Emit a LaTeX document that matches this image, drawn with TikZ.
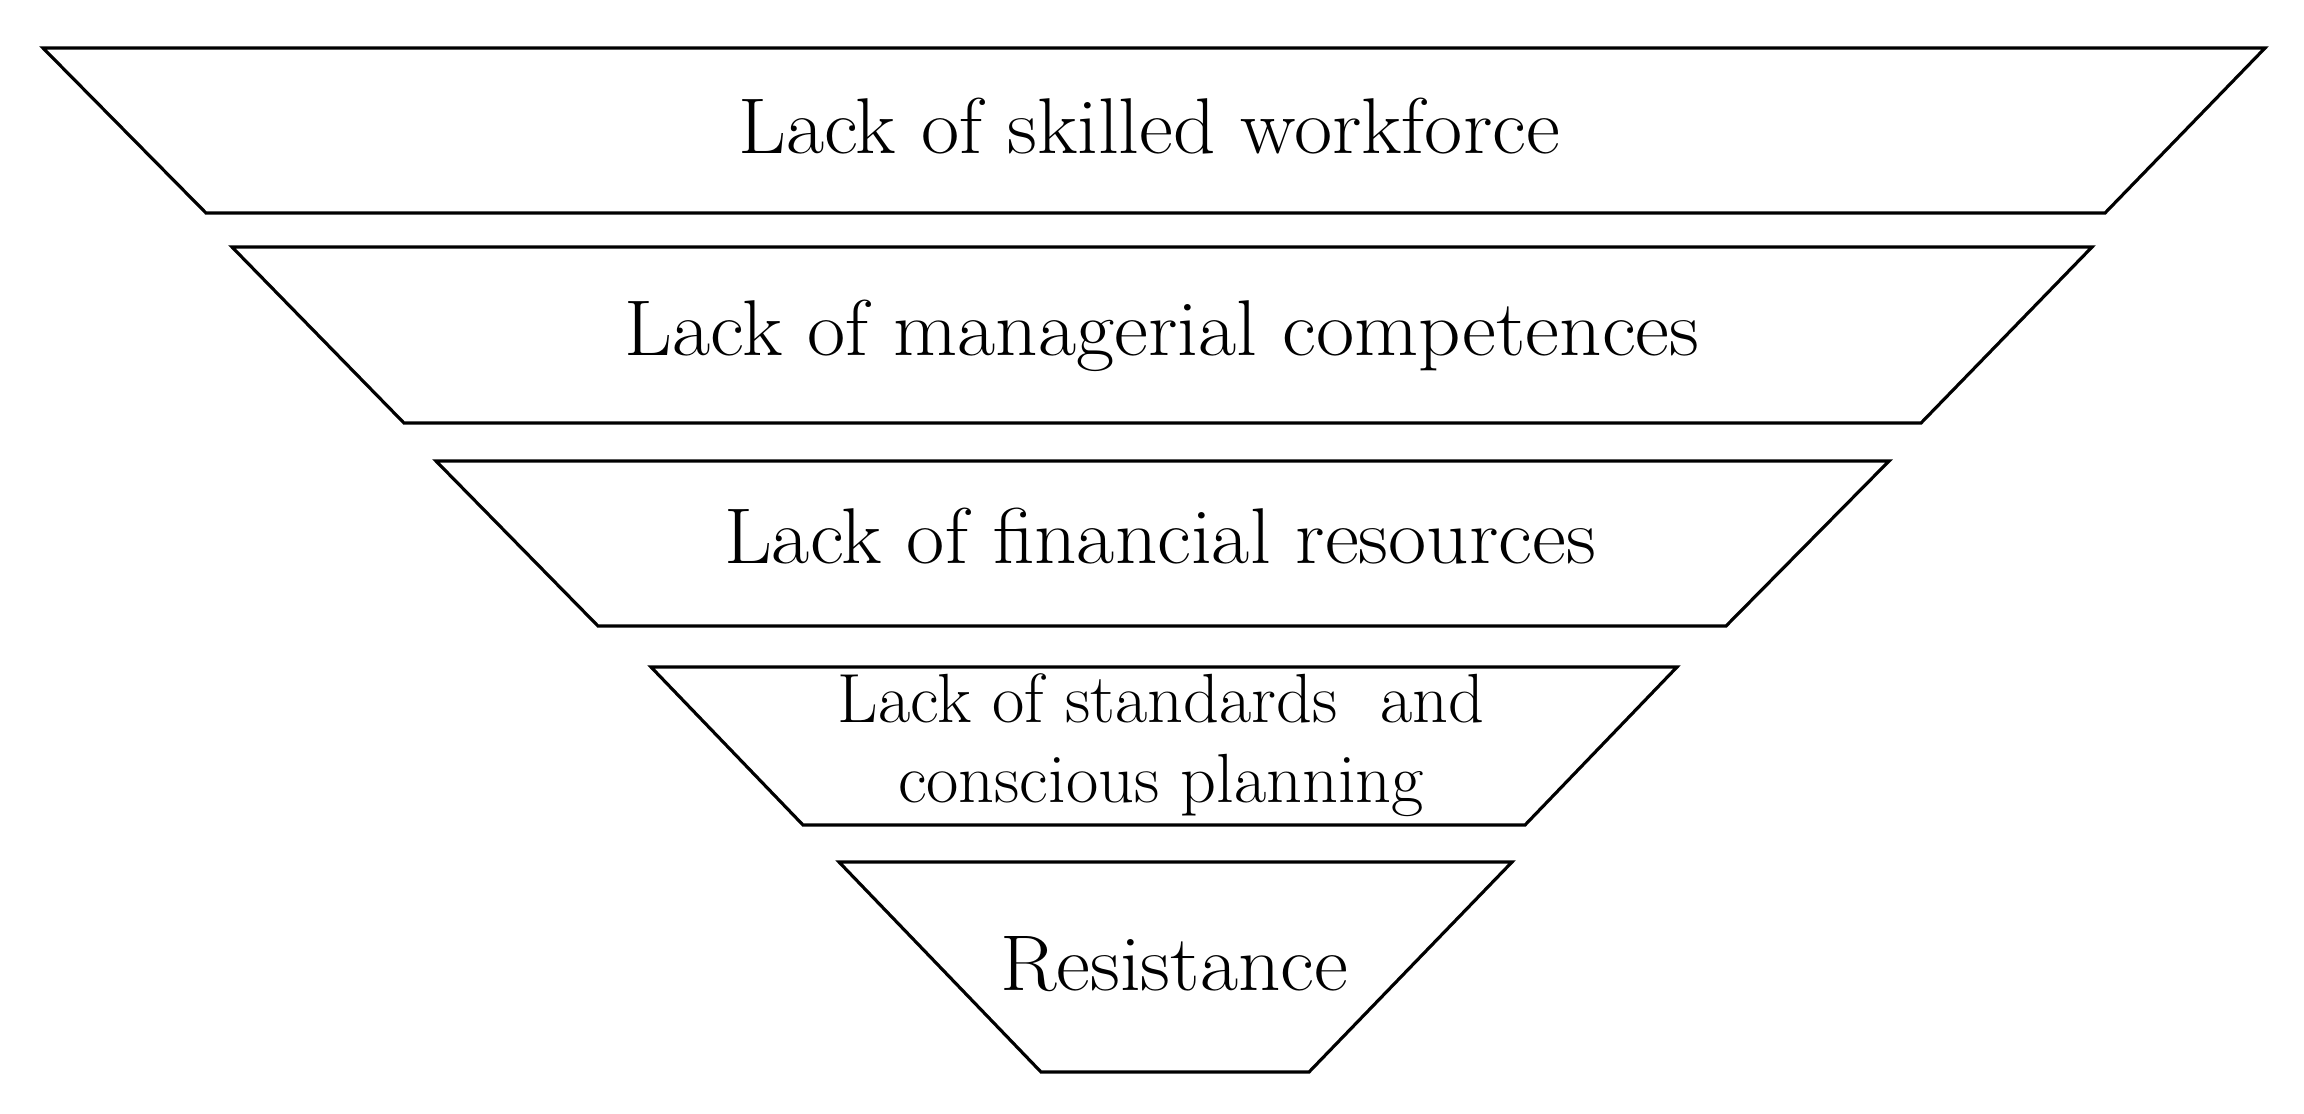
\documentclass[tikz,border=0pt]{standalone}
\usepackage{tikz}

\begin{document}
\begin{tikzpicture}[layer/.style={line width=0.9pt, line join=miter},
  lbl/.style={font=\fontsize{22.5}{27}\selectfont, inner sep=0pt, anchor=base, xscale=1.05},
  smalllbl/.style={font=\fontsize{19.8}{22.8}\selectfont, inner sep=0pt, align=center, xscale=1.01}]
\useasboundingbox (0,0) rectangle (23.04,-11.13);
  \draw[layer] (0.43,-0.48) -- (22.65,-0.48) -- (21.05,-2.13) -- (2.06,-2.13) -- cycle;
  \node[lbl] (skill) at (11.49,-1.53) {Lack of skilled workforce};
  \draw[layer] (2.32,-2.47) -- (20.92,-2.47) -- (19.21,-4.23) -- (4.04,-4.23) -- cycle;
  \node[lbl] (manag) at (11.62,-3.55) {Lack of managerial competences};
  \draw[layer] (4.36,-4.61) -- (18.89,-4.61) -- (17.26,-6.26) -- (5.98,-6.26) -- cycle;
  \node[lbl] (finance) at (11.60,-5.63) {Lack of financial resources};
  \draw[layer] (6.51,-6.67) -- (16.77,-6.67) -- (15.25,-8.25) -- (8.03,-8.25) -- cycle;
  \node[smalllbl] (standard) at (11.61,-7.45) {Lack of standards\ \ and\\ conscious planning};
  \draw[layer] (8.39,-8.62) -- (15.12,-8.62) -- (13.09,-10.72) -- (10.41,-10.72) -- cycle;
  \node[lbl] (resist) at (11.74,-9.90) {Resistance};
\end{tikzpicture}
\end{document}
